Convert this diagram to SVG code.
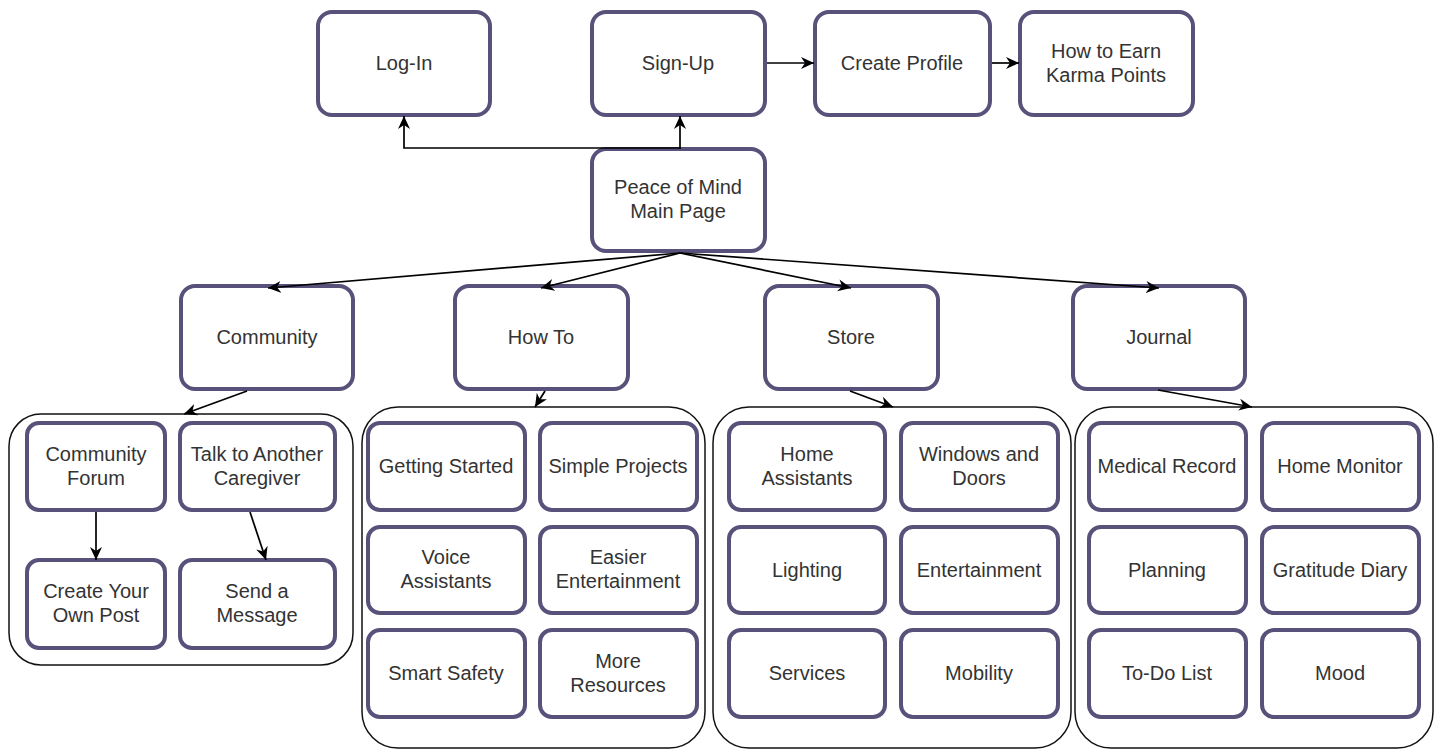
<svg xmlns="http://www.w3.org/2000/svg" width="1437" height="753" viewBox="0 0 1437 753">
<style>
.node{fill:#ffffff;stroke:#58527a;stroke-width:4}
.cont{fill:#ffffff;stroke:#111111;stroke-width:1.5}
.lbl{font-family:"Liberation Sans",Arial,sans-serif;font-size:20px;fill:#333333;text-anchor:middle}
.edge{fill:none;stroke:#000000;stroke-width:1.7}
</style>
<defs>
<marker id="arr" markerUnits="userSpaceOnUse" markerWidth="15" markerHeight="14" refX="13" refY="7" orient="auto">
<path d="M0,1 L13,7 L0,13 L4,7 Z" fill="#000000"/>
</marker>
</defs>
<rect width="1437" height="753" fill="#ffffff"/>

<g id="containers">
<rect id="community-group" class="cont" x="9" y="414" width="344" height="251" rx="32"/>
<rect id="howto-group" class="cont" x="362" y="407" width="343" height="341" rx="36"/>
<rect id="store-group" class="cont" x="713" y="407" width="358" height="341" rx="36"/>
<rect id="journal-group" class="cont" x="1075" y="407" width="358" height="341" rx="36"/>
</g>

<g id="login"><rect class="node" x="318" y="12" width="172" height="103" rx="14"/><text class="lbl" x="404" y="70">Log-In</text></g>
<g id="signup"><rect class="node" x="592" y="12" width="173" height="103" rx="14"/><text class="lbl" x="678" y="70">Sign-Up</text></g>
<g id="create-profile"><rect class="node" x="815" y="12" width="175" height="103" rx="14"/><text class="lbl" x="902" y="70">Create Profile</text></g>
<g id="karma"><rect class="node" x="1020" y="12" width="173" height="103" rx="14"/><text class="lbl" x="1106" y="58">How to Earn</text><text class="lbl" x="1106" y="82">Karma Points</text></g>
<g id="main"><rect class="node" x="592" y="149" width="173" height="102" rx="14"/><text class="lbl" x="678" y="194">Peace of Mind</text><text class="lbl" x="678" y="218">Main Page</text></g>

<g id="community"><rect class="node" x="181" y="286" width="172" height="103" rx="14"/><text class="lbl" x="267" y="344">Community</text></g>
<g id="howto"><rect class="node" x="455" y="286" width="173" height="103" rx="14"/><text class="lbl" x="541" y="344">How To</text></g>
<g id="store"><rect class="node" x="765" y="286" width="173" height="103" rx="14"/><text class="lbl" x="851" y="344">Store</text></g>
<g id="journal"><rect class="node" x="1073" y="286" width="172" height="103" rx="14"/><text class="lbl" x="1159" y="344">Journal</text></g>

<g id="community-forum"><rect class="node" x="27" y="423" width="138" height="87" rx="12"/><text class="lbl" x="96" y="461">Community</text><text class="lbl" x="96" y="485">Forum</text></g>
<g id="talk-caregiver"><rect class="node" x="180" y="423" width="155" height="87" rx="12"/><text class="lbl" x="257" y="461">Talk to Another</text><text class="lbl" x="257" y="485">Caregiver</text></g>
<g id="create-post"><rect class="node" x="27" y="560" width="138" height="88" rx="12"/><text class="lbl" x="96" y="598">Create Your</text><text class="lbl" x="96" y="622">Own Post</text></g>
<g id="send-message"><rect class="node" x="180" y="560" width="155" height="88" rx="12"/><text class="lbl" x="257" y="598">Send a</text><text class="lbl" x="257" y="622">Message</text></g>

<g id="getting-started"><rect class="node" x="368" y="423" width="157" height="87" rx="12"/><text class="lbl" x="446" y="473">Getting Started</text></g>
<g id="simple-projects"><rect class="node" x="540" y="423" width="157" height="87" rx="12"/><text class="lbl" x="618" y="473">Simple Projects</text></g>
<g id="voice-assistants"><rect class="node" x="368" y="527" width="157" height="86" rx="12"/><text class="lbl" x="446" y="564">Voice</text><text class="lbl" x="446" y="588">Assistants</text></g>
<g id="easier-entertainment"><rect class="node" x="540" y="527" width="157" height="86" rx="12"/><text class="lbl" x="618" y="564">Easier</text><text class="lbl" x="618" y="588">Entertainment</text></g>
<g id="smart-safety"><rect class="node" x="368" y="630" width="157" height="87" rx="12"/><text class="lbl" x="446" y="680">Smart Safety</text></g>
<g id="more-resources"><rect class="node" x="540" y="630" width="157" height="87" rx="12"/><text class="lbl" x="618" y="668">More</text><text class="lbl" x="618" y="692">Resources</text></g>

<g id="home-assistants"><rect class="node" x="729" y="423" width="156" height="87" rx="12"/><text class="lbl" x="807" y="461">Home</text><text class="lbl" x="807" y="485">Assistants</text></g>
<g id="windows-doors"><rect class="node" x="901" y="423" width="157" height="87" rx="12"/><text class="lbl" x="979" y="461">Windows and</text><text class="lbl" x="979" y="485">Doors</text></g>
<g id="lighting"><rect class="node" x="729" y="527" width="156" height="86" rx="12"/><text class="lbl" x="807" y="577">Lighting</text></g>
<g id="entertainment"><rect class="node" x="901" y="527" width="157" height="86" rx="12"/><text class="lbl" x="979" y="577">Entertainment</text></g>
<g id="services"><rect class="node" x="729" y="630" width="156" height="87" rx="12"/><text class="lbl" x="807" y="680">Services</text></g>
<g id="mobility"><rect class="node" x="901" y="630" width="157" height="87" rx="12"/><text class="lbl" x="979" y="680">Mobility</text></g>

<g id="medical-record"><rect class="node" x="1089" y="423" width="157" height="87" rx="12"/><text class="lbl" x="1167" y="473">Medical Record</text></g>
<g id="home-monitor"><rect class="node" x="1262" y="423" width="157" height="87" rx="12"/><text class="lbl" x="1340" y="473">Home Monitor</text></g>
<g id="planning"><rect class="node" x="1089" y="527" width="157" height="86" rx="12"/><text class="lbl" x="1167" y="577">Planning</text></g>
<g id="gratitude-diary"><rect class="node" x="1262" y="527" width="157" height="86" rx="12"/><text class="lbl" x="1340" y="577">Gratitude Diary</text></g>
<g id="todo-list"><rect class="node" x="1089" y="630" width="157" height="87" rx="12"/><text class="lbl" x="1167" y="680">To-Do List</text></g>
<g id="mood"><rect class="node" x="1262" y="630" width="157" height="87" rx="12"/><text class="lbl" x="1340" y="680">Mood</text></g>

<g id="connectors">
<path class="edge" d="M680,149 L680,116" marker-end="url(#arr)"/>
<path class="edge" d="M680,148 L404,148 L404,116" marker-end="url(#arr)"/>
<path class="edge" d="M767,63 L814,63" marker-end="url(#arr)"/>
<path class="edge" d="M992,63 L1019,63" marker-end="url(#arr)"/>
<path class="edge" d="M680,253 L268,288" marker-end="url(#arr)"/>
<path class="edge" d="M680,253 L541,288" marker-end="url(#arr)"/>
<path class="edge" d="M680,253 L851,288" marker-end="url(#arr)"/>
<path class="edge" d="M680,253 L1159,288" marker-end="url(#arr)"/>
<path class="edge" d="M247,391 L184,414" marker-end="url(#arr)"/>
<path class="edge" d="M545,391 L535,407" marker-end="url(#arr)"/>
<path class="edge" d="M850,391 L893,407" marker-end="url(#arr)"/>
<path class="edge" d="M1158,390 L1252,407" marker-end="url(#arr)"/>
<path class="edge" d="M96,512 L96,560" marker-end="url(#arr)"/>
<path class="edge" d="M250,512 L266,560" marker-end="url(#arr)"/>
</g>
</svg>
